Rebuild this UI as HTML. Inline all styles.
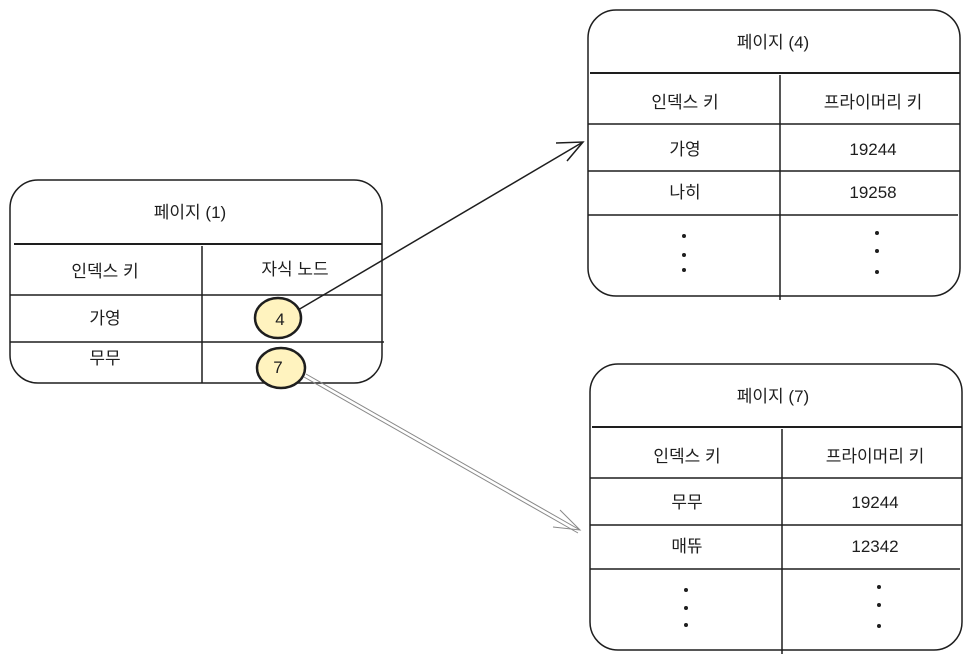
<!DOCTYPE html>
<html><head><meta charset="utf-8"><style>
body{margin:0;background:#fff;}
svg text{font-family:"Liberation Sans","Noto Sans CJK KR",sans-serif;font-size:17px;fill:#1e1e1e;text-anchor:middle;}
</style></head><body>
<svg width="972" height="664" viewBox="0 0 972 664" xmlns="http://www.w3.org/2000/svg">
<g fill="none" stroke="#1e1e1e" stroke-width="1.5">
<rect x="10" y="180" width="372" height="203" rx="28"/>
<line x1="14" y1="244" x2="382" y2="244" stroke-width="2"/>
<line x1="10" y1="295" x2="382" y2="295"/>
<line x1="10" y1="342" x2="384" y2="342"/>
<line x1="202" y1="246" x2="202" y2="383"/>
<rect x="588" y="10" width="372" height="286" rx="28"/>
<line x1="590" y1="73" x2="960" y2="73" stroke-width="2"/>
<line x1="588" y1="124" x2="960" y2="124"/>
<line x1="588" y1="171" x2="960" y2="171"/>
<line x1="588" y1="215" x2="958" y2="215"/>
<line x1="780" y1="75" x2="780" y2="300"/>
<rect x="590" y="364" width="372" height="286" rx="28"/>
<line x1="592" y1="427" x2="962" y2="427" stroke-width="2"/>
<line x1="590" y1="478" x2="962" y2="478"/>
<line x1="590" y1="525" x2="962" y2="525"/>
<line x1="590" y1="569" x2="960" y2="569"/>
<line x1="782" y1="429" x2="782" y2="654"/>
<line x1="298" y1="310" x2="583" y2="142"/>
<polyline points="556,143 583,142 567,161"/>
<g stroke="#888" stroke-width="1">
<line x1="306" y1="374" x2="580" y2="530"/>
<line x1="304" y1="377" x2="578" y2="533"/>
<polyline points="560,510 580,530 553,527"/>
</g>
</g>
<ellipse cx="278" cy="318" rx="23" ry="20" fill="#fff3bf" stroke="#1e1e1e" stroke-width="2.5"/>
<ellipse cx="281" cy="368" rx="24" ry="20" fill="#fff3bf" stroke="#1e1e1e" stroke-width="2.5"/>
<text x="280" y="325">4</text>
<text x="278" y="373">7</text>
<text x="190" y="218">페이지 (1)</text>
<text x="105" y="277">인덱스 키</text>
<text x="295" y="275">자식 노드</text>
<text x="105" y="324">가영</text>
<text x="105" y="364">무무</text>
<text x="773" y="48">페이지 (4)</text>
<text x="685" y="108">인덱스 키</text>
<text x="873" y="108">프라이머리 키</text>
<text x="685" y="155">가영</text>
<text x="873" y="155">19244</text>
<text x="685" y="198">나히</text>
<text x="873" y="198">19258</text>
<text x="773" y="402">페이지 (7)</text>
<text x="687" y="462">인덱스 키</text>
<text x="875" y="462">프라이머리 키</text>
<text x="687" y="508">무무</text>
<text x="875" y="508">19244</text>
<text x="687" y="552">매뜌</text>
<text x="875" y="552">12342</text>
<g fill="#1e1e1e">
<circle cx="684" cy="236" r="2"/><circle cx="684" cy="255" r="2"/><circle cx="684" cy="270" r="2"/>
<circle cx="877" cy="233" r="2"/><circle cx="877" cy="251" r="2"/><circle cx="877" cy="272" r="2"/>
<circle cx="686" cy="590" r="2"/><circle cx="686" cy="608" r="2"/><circle cx="686" cy="625" r="2"/>
<circle cx="879" cy="587" r="2"/><circle cx="879" cy="605" r="2"/><circle cx="879" cy="626" r="2"/>
</g>
</svg>
</body></html>
